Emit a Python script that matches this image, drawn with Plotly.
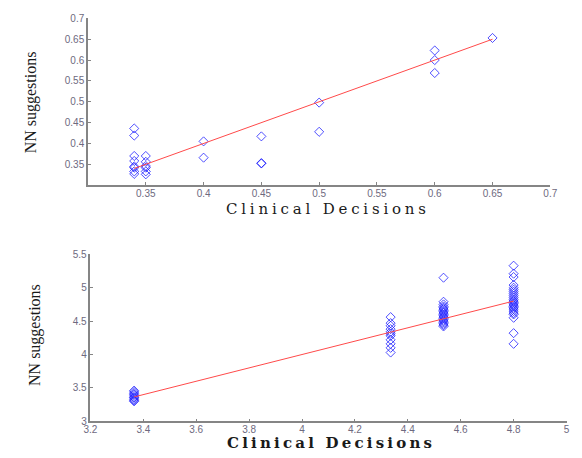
import plotly.graph_objects as go

# ---- data: top panel ----
top_x = [0.34]*8 + [0.35]*6 + [0.4]*2 + [0.45]*3 + [0.5]*2 + [0.6]*3 + [0.65]
top_y = [0.436, 0.419, 0.370, 0.358, 0.345, 0.342, 0.333, 0.327,
         0.370, 0.356, 0.346, 0.342, 0.333, 0.326,
         0.405, 0.366,
         0.417, 0.353, 0.352,
         0.498, 0.428,
         0.623, 0.600, 0.569,
         0.653]
top_fit_x = [0.34, 0.65]
top_fit_y = [0.34, 0.65]
top_xticks = [0.35, 0.4, 0.45, 0.5, 0.55, 0.6, 0.65, 0.7]
top_yticks = [0.35, 0.4, 0.45, 0.5, 0.55, 0.6, 0.65, 0.7]

# ---- data: bottom panel ----
b1 = [3.46, 3.44, 3.42, 3.40, 3.38, 3.36, 3.35, 3.33, 3.31, 3.30]
b2 = [4.56, 4.47, 4.43, 4.38, 4.34, 4.31, 4.28, 4.22, 4.16, 4.10, 4.03]
b3 = [5.15, 4.79, 4.75, 4.72, 4.70, 4.68, 4.66, 4.64, 4.62, 4.60, 4.58,
      4.56, 4.54, 4.52, 4.50, 4.48, 4.46, 4.44, 4.42]
b4 = [5.33, 5.21, 5.16, 5.04, 5.00, 4.97, 4.94, 4.91, 4.88, 4.85, 4.82,
      4.80, 4.78, 4.76, 4.74, 4.72, 4.70, 4.68, 4.65, 4.62, 4.60, 4.55,
      4.32, 4.16]
bot_cats = [3.365, 4.335, 4.535, 4.8]
bot_x = [bot_cats[0]]*len(b1) + [bot_cats[1]]*len(b2) + [bot_cats[2]]*len(b3) + [bot_cats[3]]*len(b4)
bot_y = b1 + b2 + b3 + b4
bot_fit_x = [3.365, 4.8]
bot_fit_y = [3.365, 4.8]
bot_xticks = [3.2, 3.4, 3.6, 3.8, 4.0, 4.2, 4.4, 4.6, 4.8, 5.0]
bot_yticks = [3.0, 3.5, 4.0, 4.5, 5.0, 5.5]

W, H = 582, 458
marker = dict(symbol="diamond-open", size=7, color="rgba(20,20,255,0.75)", line=dict(width=1))
redline = dict(color="#ff4a4a", width=1)

fig = go.Figure()
fig.add_trace(go.Scatter(x=top_x, y=top_y, mode="markers", marker=marker, xaxis="x", yaxis="y"))
fig.add_trace(go.Scatter(x=top_fit_x, y=top_fit_y, mode="lines", line=redline, xaxis="x", yaxis="y"))
fig.add_trace(go.Scatter(x=bot_x, y=bot_y, mode="markers", marker=marker, xaxis="x2", yaxis="y2"))
fig.add_trace(go.Scatter(x=bot_fit_x, y=bot_fit_y, mode="lines", line=redline, xaxis="x2", yaxis="y2"))

def fmt(v):
    return "%g" % v

tickfont = dict(family="Liberation Sans, Arial, sans-serif", size=10, color="#6e6a80")
axcommon = dict(showline=True, linecolor="#858585", linewidth=1.5, ticks="inside",
                ticklen=3, tickcolor="#858585", showgrid=False, zeroline=False,
                tickfont=tickfont, mirror=False)

def px_x(p):
    return p / W

def px_y(p):
    return 1 - p / H

fig.update_layout(
    width=W, height=H, margin=dict(l=0, r=0, t=0, b=0),
    paper_bgcolor="white", plot_bgcolor="white", showlegend=False,
    xaxis=dict(domain=[px_x(83), px_x(556.7)], range=[0.3, 0.7], anchor="y",
               tickvals=top_xticks, ticktext=[fmt(v) for v in top_xticks],
               ticklabelstandoff=-2, **axcommon),
    yaxis=dict(domain=[px_y(184), px_y(12.7)], range=[0.3, 0.7], anchor="x",
               tickvals=top_yticks, ticktext=[fmt(v) for v in top_yticks], **axcommon),
    xaxis2=dict(domain=[px_x(85.5), px_x(573.3)], range=[3.2, 5.0], anchor="y2",
                tickvals=bot_xticks, ticktext=[fmt(v) for v in bot_xticks],
                ticklabelstandoff=-2, **axcommon),
    yaxis2=dict(domain=[px_y(426.5), px_y(255)], range=[3.0, 5.5], anchor="x2",
                tickvals=bot_yticks, ticktext=[fmt(v) for v in bot_yticks], **axcommon),
)

xt_font_top = dict(family="DejaVu Serif, serif", size=15, color="#1a1a1a")
xt_font_bot = dict(family="DejaVu Serif, serif", size=15, color="#1a1a1a", weight="bold")
yt_font = dict(family="Liberation Serif, Times New Roman, serif", size=16, color="#1a1a1a")
xt_top = '<span style="letter-spacing:3.8px">Clinical Decisions</span>'
xt_bot = '<span style="letter-spacing:3.2px">Clinical Decisions</span>'
ann = [
    dict(x=px_x(329), y=px_y(208.5), text=xt_top, font=xt_font_top),
    dict(x=px_x(332), y=px_y(448.5), text=xt_bot, font=xt_font_bot),
    dict(x=px_x(24), y=px_y(98.5), text="NN suggestions", textangle=-90, font=yt_font),
    dict(x=px_x(28), y=px_y(337.5), text="NN suggestions", textangle=-90, font=yt_font),
]
for a in ann:
    a.update(xref="paper", yref="paper", showarrow=False, xanchor="center", yanchor="middle")
fig.update_layout(annotations=ann)

fig.write_html("out.html", config={"displayModeBar": False},
               post_script="document.body.style.margin='0px';")
